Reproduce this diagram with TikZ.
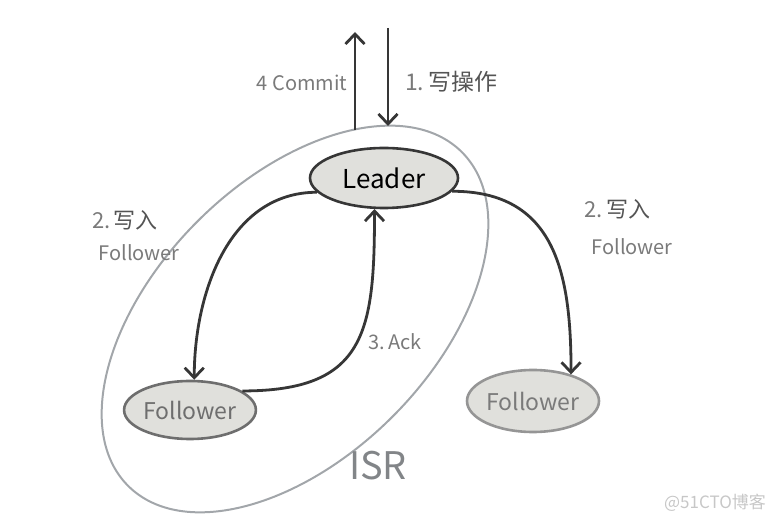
\documentclass[tikz,border=0pt]{standalone}
\usepackage{xcolor}
\usepackage{fontspec}
\setmainfont{Noto Sans CJK SC}
\usepackage{tikz}
\usetikzlibrary{shapes.geometric,arrows.meta,positioning}

\definecolor{inkdark}{HTML}{363636}
\definecolor{inkgrey}{HTML}{7A7A7A}
\definecolor{isrline}{HTML}{A2A6AA}
\definecolor{nodefill}{HTML}{E0E0DC}

\begin{document}
\begin{tikzpicture}[
            x=1pt, y=1pt,
            ell/.style={draw, ellipse, fill=nodefill, line width=2.6pt, inner sep=0pt},
            lbl/.style={text=inkgrey, inner sep=0pt},
            arr/.style={draw=inkdark, line width=2.8pt, -{Straight Barb[length=10pt,width=19pt]}},
        ]
            \useasboundingbox (0,0) rectangle (774,522);
            % ISR set
            \node[draw=isrline, line width=2pt, ellipse, rotate=45, minimum width=472, minimum height=276] (isr) at (295,203) {};
            \node[lbl, text=isrline!80!black, font=\fontsize{38}{40}\selectfont] (isrlbl) at (378,56) {ISR};

            \node[ell, draw=inkdark, minimum width=148, minimum height=60, font=\fontsize{26}{28}\selectfont] (leader) at (384,344) {Leader};
            \node[ell, draw=inkgrey!90!black, text=inkgrey!90!black, minimum width=130, minimum height=58, font=\fontsize{23}{25}\selectfont] (lf) at (190,112) {Follower};
            \node[ell, draw=inkgrey!80, text=inkgrey, minimum width=132, minimum height=62, font=\fontsize{23}{25}\selectfont] (rf) at (533,121) {Follower};

            \coordinate (commitbase) at (355,392);
            \coordinate (committop) at (355,490);
            \coordinate (writetop) at (388,494);
            \coordinate (writebase) at (388,396);

            \draw[arr] (commitbase) -- (committop);
            \draw[arr] (writetop) -- (writebase);
            \draw[arr] (leader.192) to[out=180,in=90] (lf.82);
            \draw[arr] (leader.349) to[out=0,in=90,looseness=1.2] (rf.35);
            \draw[arr] (lf.20) to[out=0,in=270,looseness=1.4] (leader.253);

            \node[lbl, font=\fontsize{20}{22}\selectfont] (commitlbl) at (302,439) {4 Commit};
            \node[lbl, font=\fontsize{23}{25}\selectfont] (writelbl) at (451,440) {1.\,{\color{inkdark!85}写操作}};
            \node[lbl, font=\fontsize{22}{24}\selectfont] (repl) at (125,302) {2.\,{\color{inkdark!85}写入}};
            \node[lbl, font=\fontsize{20}{22}\selectfont] (replf) at (139,269) {Follower};
            \node[lbl, font=\fontsize{22}{24}\selectfont] (repr) at (617,313) {2.\,{\color{inkdark!85}写入}};
            \node[lbl, font=\fontsize{20}{22}\selectfont] (reprf) at (632,275) {Follower};
            \node[lbl, font=\fontsize{20}{22}\selectfont] (acklbl) at (395,180) {3.\,Ack};
            \node[lbl, text=black!22, font=\fontsize{17}{19}\selectfont] (mark) at (715,19) {@51CTO博客};
        \end{tikzpicture}
\end{document}
